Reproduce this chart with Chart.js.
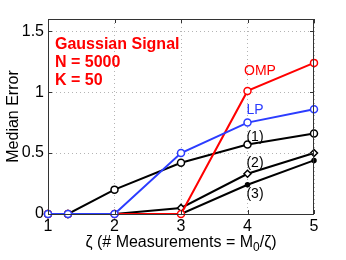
<!DOCTYPE html>
<html>
<head>
<meta charset="utf-8">
<script src="https://cdn.jsdelivr.net/npm/chart.js@4/dist/chart.umd.min.js"></script>
<style>
  html, body { margin: 0; padding: 0; background: #fff; }
  #wrap { width: 346px; height: 260px; }
</style>
</head>
<body>
<div id="wrap"><canvas id="errChart" width="346" height="260"></canvas></div>
<script>
// ---- data ----
const zeta = [1, 1.3, 2, 3, 4, 5];
const ompErr = [0, 0, 0, 0, 1.01, 1.24];
const lpErr = [0, 0, 0, 0.5, 0.75, 0.86];
const err1 = [0, 0, 0.2, 0.42, 0.57, 0.66];
const err2 = [0, 0, 0, 0.05, 0.33, 0.5];
const err3 = [0, 0, 0, 0, 0.24, 0.44];
const xTicks = [1, 2, 3, 4, 5];
const yTicks = [0, 0.5, 1, 1.5];

const FONT = "'Liberation Sans', Arial, sans-serif";

function pts(ys) {
    return zeta.map((x, i) => ({ x, y: ys[i] }));
}

// text labels, box and inward ticks drawn on top of the chart
const decor = {
    id: 'decor',
    afterDraw(chart) {
        const { ctx, chartArea: a, scales } = chart;
        const xs = scales.x, ys = scales.y;
        ctx.save();
        ctx.setLineDash([]);

        // frame
        ctx.strokeStyle = '#333';
        ctx.lineWidth = 1;
        ctx.strokeRect(a.left + 0.5, a.top + 0.5, a.right - a.left - 1, a.bottom - a.top);

        // inward tick marks
        ctx.beginPath();
        xTicks.forEach(v => {
            const px = Math.round(xs.getPixelForValue(v)) + 0.5;
            ctx.moveTo(px, a.bottom); ctx.lineTo(px, a.bottom - 4);
            ctx.moveTo(px, a.top); ctx.lineTo(px, a.top + 4);
        });
        yTicks.forEach(v => {
            const py = Math.round(ys.getPixelForValue(v)) + 0.5;
            ctx.moveTo(a.left, py); ctx.lineTo(a.left + 4, py);
            ctx.moveTo(a.right, py); ctx.lineTo(a.right - 4, py);
        });
        ctx.stroke();

        // info block
        ctx.fillStyle = '#ff0000';
        ctx.font = 'bold 16px ' + FONT;
        ctx.textAlign = 'left';
        ctx.textBaseline = 'middle';
        ctx.fillText('Gaussian Signal', 55, 45);
        ctx.fillText('N = 5000', 55, 63);
        ctx.fillText('K = 50', 55, 81);

        // series labels
        ctx.font = '14px ' + FONT;
        ctx.textAlign = 'center';
        ctx.fillStyle = '#ff0000';
        ctx.fillText('OMP', 260, 71);
        ctx.fillStyle = '#2b3cff';
        ctx.fillText('LP', 255, 110);
        ctx.fillStyle = '#000';
        ctx.fillText('(1)', 255, 137);
        ctx.fillText('(2)', 255, 163);
        ctx.fillText('(3)', 255, 194);

        // axis titles
        ctx.fillStyle = '#000';
        const t1 = 'ζ (# Measurements = M', t2 = '0', t3 = '/ζ)';
        const mainFont = '16px ' + FONT, subFont = '12px ' + FONT;
        ctx.font = mainFont;
        const w1 = ctx.measureText(t1).width;
        const w3 = ctx.measureText(t3).width;
        ctx.font = subFont;
        const w2 = ctx.measureText(t2).width;
        const x0 = (a.left + a.right) / 2 - (w1 + w2 + w3) / 2;
        ctx.textAlign = 'left';
        ctx.font = mainFont;
        ctx.fillText(t1, x0, 243);
        ctx.font = subFont;
        ctx.fillText(t2, x0 + w1, 248);
        ctx.font = mainFont;
        ctx.fillText(t3, x0 + w1 + w2, 243);

        ctx.translate(14, (a.top + a.bottom) / 2);
        ctx.rotate(-Math.PI / 2);
        ctx.textAlign = 'center';
        ctx.fillText('Median Error', 0, 0);
        ctx.restore();
    }
};

const line = (data, color, style, radius, order) => ({
    data: pts(data),
    borderColor: color,
    borderWidth: 2,
    pointStyle: style,
    pointRadius: radius,
    pointHoverRadius: radius,
    pointBorderWidth: 1.5,
    pointBorderColor: color,
    pointBackgroundColor: style === 'circle' && radius < 3 ? color : '#fff',
    clip: false,
    order
});

new Chart(document.getElementById('errChart'), {
    type: 'line',
    data: {
        datasets: [
            line(err3, '#000', 'circle', 2, 5),
            line(err2, '#000', 'rectRot', 3.5, 4),
            line(err1, '#000', 'circle', 3.5, 3),
            line(ompErr, '#ff0000', 'circle', 3.5, 2),
            line(lpErr, '#2b3cff', 'circle', 3.5, 1)
        ]
    },
    options: {
        responsive: false,
        animation: false,
        events: [],
        layout: { padding: { left: 0, top: 19, right: 32, bottom: 0 } },
        plugins: { legend: { display: false }, tooltip: { enabled: false } },
        scales: {
            x: {
                type: 'linear',
                min: 1, max: 5,
                afterBuildTicks: s => { s.ticks = xTicks.map(v => ({ value: v })); },
                afterFit: s => { s.height = 46; },
                ticks: { color: '#000', font: { size: 16, family: FONT }, padding: 3, callback: v => String(v) },
                grid: { color: '#b4b4b4', lineWidth: 1, drawTicks: false },
                border: { display: false, dash: [1, 3] }
            },
            y: {
                min: 0, max: 1.6,
                afterBuildTicks: s => { s.ticks = yTicks.map(v => ({ value: v })); },
                afterFit: s => { s.width = 48; },
                ticks: { color: '#000', font: { size: 16, family: FONT }, padding: 4, callback: v => String(v) },
                grid: { color: '#b4b4b4', lineWidth: 1, drawTicks: false },
                border: { display: false, dash: [1, 3] }
            }
        }
    },
    plugins: [decor]
});
</script>
</body>
</html>
